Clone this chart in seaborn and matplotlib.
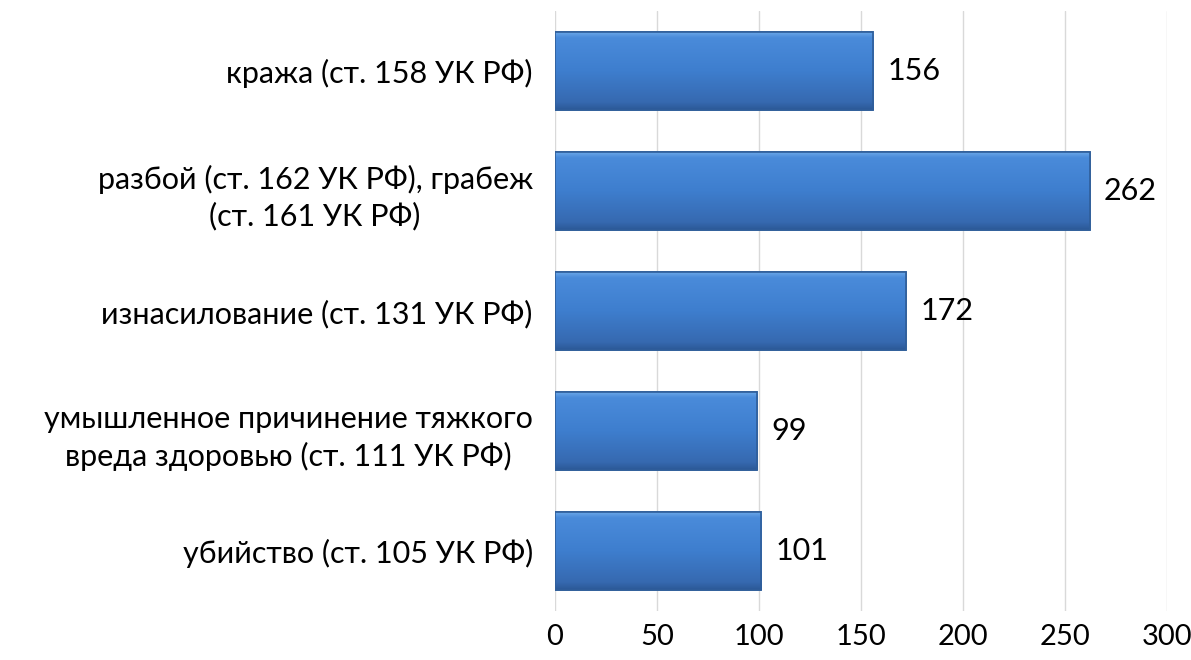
import matplotlib
matplotlib.use("Agg")
import matplotlib.pyplot as plt
import seaborn as sns
import numpy as np
import pandas as pd
from matplotlib.colors import LinearSegmentedColormap

categories = [
    "кража (ст. 158 УК РФ)",
    "разбой (ст. 162 УК РФ), грабеж\n(ст. 161 УК РФ)",
    "изнасилование (ст. 131 УК РФ)",
    "умышленное причинение тяжкого\nвреда здоровью (ст. 111 УК РФ)",
    "убийство (ст. 105 УК РФ)",
]
values = [156, 262, 172, 99, 101]
x_ticks = [0, 50, 100, 150, 200, 250, 300]

sns.set_theme(style="white")
plt.rcParams['font.family'] = ['Lato', 'DejaVu Sans']

df = pd.DataFrame({"cat": categories, "val": values})

fig = plt.figure(figsize=(11.91, 6.6), dpi=100)
ax = fig.add_axes([0.466, 0.074, 0.514, 0.909])

sns.barplot(data=df, x="val", y="cat", orient="h", color="#3F7FCF",
            width=0.65, ax=ax, edgecolor="#2F5E9A", linewidth=1.2, zorder=3)

cmap = LinearSegmentedColormap.from_list(
    "bev", [(0.0, "#6AA7E8"), (0.07, "#4A8BDA"), (0.5, "#3E7ECE"),
            (0.9, "#3669B0"), (1.0, "#2B5896")])
grad = np.linspace(0, 1, 256).reshape(-1, 1)
for p in ax.patches:
    x0, y0 = p.get_x(), p.get_y()
    w, h = p.get_width(), p.get_height()
    im = ax.imshow(grad, cmap=cmap, aspect="auto",
                   extent=[x0, x0 + w, y0 + h, y0], zorder=3.5,
                   interpolation="bilinear")
    im.set_clip_path(p)
    edge = plt.Rectangle((x0, y0), w, h, fill=False,
                         edgecolor="#2F5E9A", linewidth=1.2, zorder=4)
    ax.add_patch(edge)

fs = 22
for i, v in enumerate(values):
    ax.text(v + 7, i, str(v), va="center", ha="left", fontsize=fs,
            color="#000000", zorder=5)

ax.set_xlim(0, 300)
ax.set_ylim(len(categories) - 0.5, -0.5)
ax.set_xticks(x_ticks)
ax.set_xticklabels([str(t) for t in x_ticks], fontsize=21, color="#000000")
ax.set_yticks(range(len(categories)))
ax.set_yticklabels(categories, fontsize=fs, multialignment="center",
                   color="#000000", linespacing=1.35)
ax.tick_params(axis="y", length=0, pad=16)
ax.tick_params(axis="x", length=0, pad=9)
ax.set_xlabel("")
ax.set_ylabel("")
ax.grid(axis="x", color="#D9D9D9", linewidth=1, zorder=0)
ax.set_axisbelow(True)
for s in ax.spines.values():
    s.set_visible(False)

fig.savefig("out.png", dpi=100)
